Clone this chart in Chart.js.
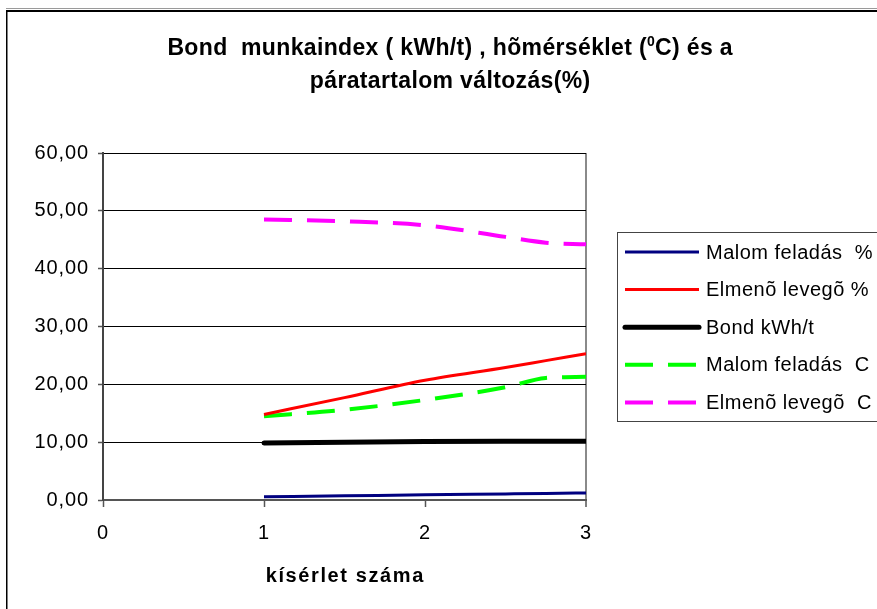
<!DOCTYPE html>
<html>
<head>
<meta charset="utf-8">
<script src="https://cdn.jsdelivr.net/npm/chart.js@4/dist/chart.umd.min.js"></script>
<style>
  html, body { margin: 0; padding: 0; background: #fff; overflow: hidden; }
  canvas { display: block; }
</style>
</head>
<body>
<canvas id="c" width="877" height="609" style="width:877px;height:609px"></canvas>
<script>
// Experiment number (x) and measured series
const xValues   = [1, 1.5, 2, 2.5, 2.75, 3];
const malomPct  = [0.55, 0.72, 0.9, 1.05, 1.13, 1.22];
const elmenoPct = [14.8, 17.7, 20.7, 22.9, 24.1, 25.3];
const bondKwh   = [9.85, 10.0, 10.1, 10.15, 10.15, 10.15];
const malomC    = [14.5, 15.6, 17.3, 19.5, 21.1, 21.3];
const elmenoC   = [48.5, 48.2, 47.5, 45.5, 44.5, 44.2];

const seriesLabels = ['Malom feladás  %', 'Elmenõ levegõ %', 'Bond kWh/t', 'Malom feladás  C', 'Elmenõ levegõ  C'];
const xTicks = [0, 1, 2, 3];
const yTicks = [0, 10, 20, 30, 40, 50, 60];
const titleLine1 = ['Bond  munkaindex ( kWh/t) , hõmérséklet (', '0', 'C) és a'];
const titleLine2 = 'páratartalom változás(%)';
const xAxisTitle = 'kísérlet száma';

const FONT = '"Liberation Sans", Arial, sans-serif';

const pts = ys => xValues.map((x, i) => ({ x: x, y: ys[i] }));

const datasets = [
  { label: seriesLabels[0], data: pts(malomPct),  borderColor: '#000080', borderWidth: 3 },
  { label: seriesLabels[1], data: pts(elmenoPct), borderColor: '#FF0000', borderWidth: 3 },
  { label: seriesLabels[2], data: pts(bondKwh),   borderColor: '#000000', borderWidth: 5, borderCapStyle: 'round' },
  { label: seriesLabels[3], data: pts(malomC),    borderColor: '#00FF00', borderWidth: 4, borderDash: [28, 15] },
  { label: seriesLabels[4], data: pts(elmenoC),   borderColor: '#FF00FF', borderWidth: 4, borderDash: [28, 15] }
];

function spacedText(ctx, text, x, y, spacing, align) {
  ctx.save();
  ctx.letterSpacing = spacing + 'px';
  const w = ctx.measureText(text).width - spacing;
  let sx = x;
  if (align === 'center') sx = x - w / 2;
  else if (align === 'right') sx = x - w;
  ctx.textAlign = 'left';
  ctx.fillText(text, sx, y);
  ctx.restore();
  return w;
}

// Frame, title, axis title and legend box
const decorPlugin = {
  id: 'decor',
  beforeDraw(chart) {
    const ctx = chart.ctx;
    ctx.save();
    ctx.fillStyle = '#fff';
    ctx.fillRect(0, 0, chart.width, chart.height);
    ctx.fillStyle = '#9a9a9a';
    ctx.fillRect(6, 8, chart.width, 1);
    ctx.fillStyle = '#000';
    ctx.fillRect(6, 10, chart.width, 2);
    ctx.fillRect(6, 10, 1.5, chart.height);
    ctx.restore();
    ctx.letterSpacing = '0.9px';
  },
  afterDraw(chart) {
    const ctx = chart.ctx;
    ctx.save();
    ctx.fillStyle = '#000';
    ctx.textBaseline = 'alphabetic';

    // two-line title with superscript degree zero
    const cx = 450;
    const sp = 0.35;
    const big = 'bold 23px ' + FONT;
    const small = 'bold 14px ' + FONT;
    ctx.letterSpacing = sp + 'px';
    ctx.font = big;
    const wA = ctx.measureText(titleLine1[0]).width;
    const wC = ctx.measureText(titleLine1[2]).width - sp;
    ctx.font = small;
    const wB = ctx.measureText(titleLine1[1]).width;
    const total = wA + wB + wC;
    let x = cx - total / 2;
    ctx.font = big;
    ctx.fillText(titleLine1[0], x, 55);
    x += wA;
    ctx.font = small;
    ctx.fillText(titleLine1[1], x, 46);
    x += wB;
    ctx.font = big;
    ctx.fillText(titleLine1[2], x, 55);
    spacedText(ctx, titleLine2, cx, 88, sp, 'center');

    // x axis title
    const area = chart.chartArea;
    ctx.font = 'bold 20px ' + FONT;
    spacedText(ctx, xAxisTitle, (area.left + area.right) / 2, 582, 1.6, 'center');

    // legend
    ctx.letterSpacing = '0px';
    ctx.strokeStyle = '#444';
    ctx.lineWidth = 1;
    ctx.strokeRect(617.5, 232.5, 400, 189);
    ctx.font = '20px ' + FONT;
    ctx.textBaseline = 'middle';
    chart.data.datasets.forEach((ds, i) => {
      const y = 252 + i * 37.6;
      ctx.save();
      ctx.strokeStyle = ds.borderColor;
      ctx.lineWidth = ds.borderWidth;
      ctx.lineCap = ds.borderCapStyle || 'butt';
      ctx.setLineDash(ds.borderDash || []);
      ctx.beginPath();
      ctx.moveTo(625, y);
      ctx.lineTo(699, y);
      ctx.stroke();
      ctx.restore();
      spacedText(ctx, ds.label, 706, y + 1, 0.5, 'left');
    });
    ctx.restore();
  }
};

new Chart(document.getElementById('c').getContext('2d'), {
  type: 'line',
  data: { datasets: datasets },
  options: {
    responsive: false,
    animation: false,
    devicePixelRatio: 1,
    layout: { padding: { top: 153, right: 291, left: 0, bottom: 0 } },
    plugins: {
      legend: { display: false },
      title: { display: false },
      tooltip: { enabled: false }
    },
    elements: {
      point: { radius: 0 },
      line: { tension: 0.4, cubicInterpolationMode: 'monotone', fill: false }
    },
    scales: {
      x: {
        type: 'linear',
        min: 0,
        max: 3,
        afterBuildTicks: s => { s.ticks = xTicks.map(v => ({ value: v })); },
        afterFit: s => { s.height = 109; },
        ticks: {
          color: '#000',
          font: { family: FONT, size: 20 },
          padding: 14,
          callback: v => String(v)
        },
        grid: {
          color: c => (c.tick && c.tick.value === 3 ? '#8a8a8a' : 'rgba(0,0,0,0)'),
          lineWidth: c => (c.tick && c.tick.value === 3 ? 2 : 1),
          tickColor: '#555',
          tickWidth: 1.5,
          tickLength: 7
        },
        border: { color: '#555', width: 2 }
      },
      y: {
        min: 0,
        max: 60,
        afterBuildTicks: s => { s.ticks = yTicks.map(v => ({ value: v })); },
        afterFit: s => { s.width = 103; },
        ticks: {
          color: '#000',
          font: { family: FONT, size: 20 },
          padding: 9,
          callback: v => v.toFixed(2).replace('.', ',')
        },
        grid: {
          color: '#000',
          lineWidth: 1,
          tickColor: '#555',
          tickWidth: 1.5,
          tickLength: 5
        },
        border: { color: '#444', width: 2 }
      }
    }
  },
  plugins: [decorPlugin]
});
</script>
</body>
</html>
